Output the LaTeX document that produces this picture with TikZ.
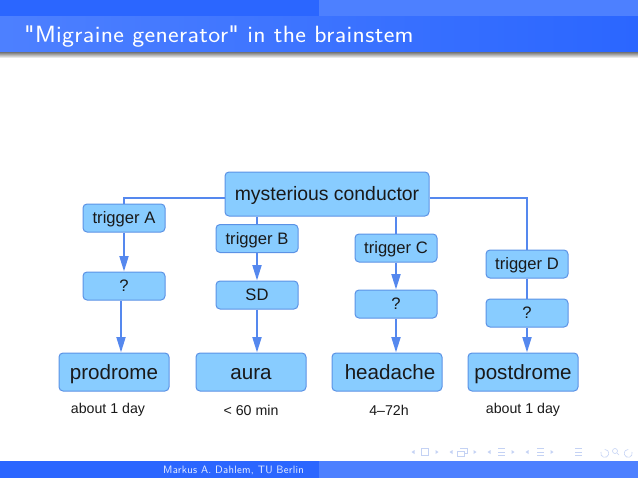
\documentclass[tikz,border=0pt]{standalone}
\usepackage{fontspec}
\usepackage{tikz}
\newfontfamily\figfont{Liberation Sans}
\newfontfamily\titlefont[FakeStretch=1.08, LetterSpace=1.5]{LMSans8-Regular}
\newfontfamily\footfont[LetterSpace=2.4]{LMSans8-Regular}
\usetikzlibrary{arrows.meta}
\definecolor{bardark}{HTML}{2B66FF}
\definecolor{barlight}{HTML}{4D80FF}
\definecolor{boxfill}{HTML}{88CCFF}
\definecolor{boxline}{HTML}{5B92E5}
\definecolor{flowblue}{HTML}{5588EE}
\definecolor{navgray}{HTML}{C4D2F4}
\tikzset{flow/.style = {draw=flowblue, line width=2pt}}
\tikzset{flowarr/.style = {flow, -{Triangle[length=15.5pt, width=9pt]}}}
\tikzset{msbox/.style = {draw=boxline, fill=boxfill, line width=1pt, rounded corners=4pt,
                         inner sep=0, text=black!90, text depth=0, font=\figfont}}
\tikzset{trigbox/.style = {msbox, minimum width=82, minimum height=28, text height=11, font=\figfont\fontsize{16.6}{19}\selectfont}}
\tikzset{phasebox/.style = {msbox, minimum width=110, minimum height=38, text height=14, font=\figfont\fontsize{20.6}{24}\selectfont}}
\tikzset{lengthlabel/.style = {inner sep=0, text=black!90, font=\figfont\fontsize{14.2}{17}\selectfont}}
\tikzset{navline/.style = {draw=navgray, line width=0.6pt}}
\begin{document}
\begin{tikzpicture}[x=1pt, y=-1pt]
    \useasboundingbox (0, 0) rectangle (638, 479);

    % head and foot bars
    \fill [bardark] (0, 0) rectangle (319, 16.5);
    \fill [barlight] (319, 0) rectangle (638, 16.5);
    \shade [left color=barlight, right color=bardark] (0, 16.5) rectangle (638, 52);
    \shade [top color=black!55, bottom color=white] (0, 52) rectangle (638, 58);
    \fill [bardark] (0, 461) rectangle (319, 478);
    \fill [barlight] (319, 461) rectangle (638, 478);
    \node [inner sep=0, text=white, font=\titlefont\fontsize{23.5}{26}\selectfont, anchor=base west] (title)
        at (24, 42) {"Migraine generator" in the brainstem};
    \node [inner sep=0, text=white!90!bardark, font=\footfont\fontsize{10.7}{12}\selectfont, anchor=base west] (foot)
        at (163, 473.5) {Markus A. Dahlem, TU Berlin};

    \node [msbox, minimum width=204, minimum height=44, text height=12, font=\figfont\fontsize{19.4}{22}\selectfont] (conductor) at (327, 194) {mysterious conductor\hspace{4pt}};

    \node [trigbox] (triga) at (124, 218) {trigger A};
    \node [trigbox] (qa) at (124, 286) {?};
    \node [trigbox] (trigb) at (257, 238.5) {trigger B};
    \node [trigbox] (sd) at (257, 295) {SD};
    \node [trigbox] (trigc) at (396, 248) {trigger C};
    \node [trigbox] (qc) at (396, 304) {?};
    \node [trigbox] (trigd) at (527, 264) {trigger D};
    \node [trigbox] (qd) at (527, 313) {?};

    \node [phasebox] (prodrome) at (114, 372) {prodrome};
    \node [phasebox] (aura) at (251, 372) {aura};
    \node [phasebox] (headache) at (387, 372) {\hspace{6pt}headache};
    \node [phasebox] (postdrome) at (523, 372) {postdrome};

    \node [lengthlabel] (lena) at (108, 410) {about 1 day};
    \node [lengthlabel] (lenb) at (251, 410) {< 60 min};
    \node [lengthlabel] (lenc) at (389, 410) {4–72h};
    \node [lengthlabel] (lend) at (523, 410) {about 1 day};

    \draw [flow] ([yshift=-4]conductor.west) -| (triga.north);
    \draw [flow] ([yshift=-4]conductor.east) -| (trigd.north);
    \draw [flow] (conductor.south -| trigb) -- (trigb.north);
    \draw [flow] (conductor.south -| trigc) -- (trigc.north);

    \draw [flowarr] (triga) -- (qa);
    \draw [flowarr] (trigb) -- (sd);
    \draw [flowarr] (trigc) -- (qc);
    \draw [flow] (trigd) -- (qd);

    \draw [flowarr] ([xshift=-3]qa.south) -- ([xshift=7]prodrome.north);
    \draw [flowarr] (sd.south) -- ([xshift=6]aura.north);
    \draw [flowarr] (qc.south) -- ([xshift=9]headache.north);
    \draw [flowarr] (qd.south) -- ([xshift=4]postdrome.north);

    % navigation symbols
    \foreach \x in {437, 475, 513, 552} {
        \fill [navgray] (\x-1.5, 450) -- (\x+1.5, 452) -- (\x-1.5, 454) -- cycle;
    }
    \foreach \x in {413, 451, 489, 527} {
        \fill [navgray] (\x+1.5, 450) -- (\x-1.5, 452) -- (\x+1.5, 454) -- cycle;
    }
    \draw [navline] (421, 448.5) rectangle (428, 455);
    \draw [navline] (457, 451) rectangle (464, 456);
    \draw [navline] (460, 448.5) -- (467, 448.5) -- (467, 453.5) -- (464, 453.5);
    \foreach \x in {498, 537, 575} {
        \foreach \y in {448.5, 452, 455.5} {
            \draw [navline] (\x, \y) -- (\x+7, \y);
        }
    }
    \draw [navline] (601, 452) arc (200:-90:4);
    \draw [navline] (615, 451) circle (2.5);
    \draw [navline] (617, 453) -- (619, 455);
    \draw [navline] (632, 452) arc (-20:270:4);
  \end{tikzpicture}
\end{document}
